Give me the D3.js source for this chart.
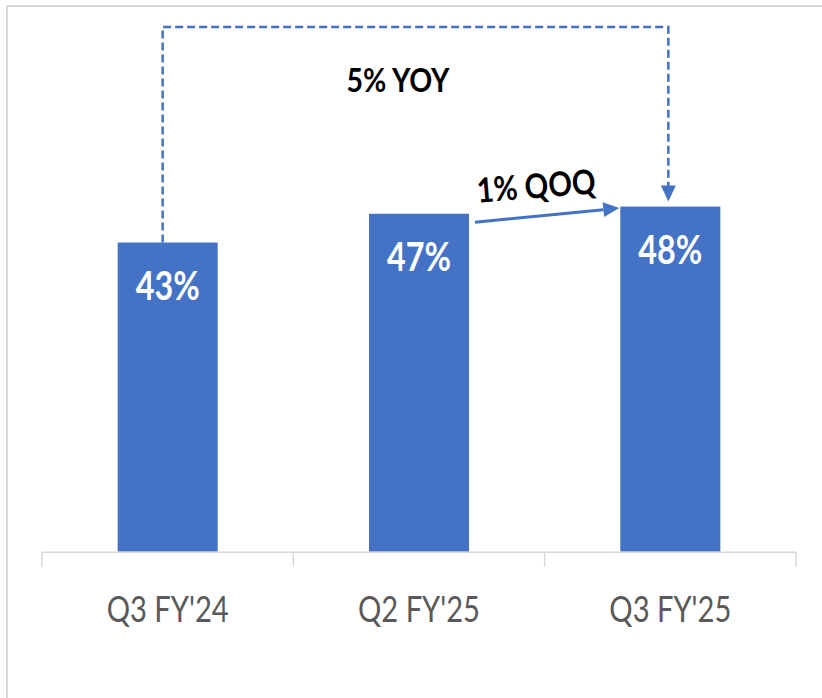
<!DOCTYPE html>
<html>
<head>
<meta charset="utf-8">
<script src="https://cdn.jsdelivr.net/npm/d3@7"></script>
<style>
  html, body { margin: 0; padding: 0; background: #fff; }
  svg { display: block; }
</style>
</head>
<body>
<svg id="chart" width="822" height="698"></svg>
<script>
const categories = ["Q3 FY'24", "Q2 FY'25", "Q3 FY'25"];
const values = [43, 47, 48];
const valueLabels = ["43%", "47%", "48%"];
const yoyLabel = "5% YOY";
const qoqLabel = "1% QOQ";

const svg = d3.select("#chart");
const blue = "#4472C4";
const grid = "#d9d9d9";

// outer frame (clipped at right/bottom like the reference)
svg.append("rect").attr("x", 7).attr("y", 6).attr("width", 900).attr("height", 900)
  .attr("fill", "none").attr("stroke", grid).attr("stroke-width", 2);

const x = d3.scaleBand().domain(categories).range([42, 796])
  .paddingInner(0.602).paddingOuter(0.301);
const y = d3.scaleLinear().domain([0, 60]).range([551.7, 551.7 - 60 * 7.19]);

// bars
svg.selectAll("rect.bar").data(values).join("rect").attr("class", "bar")
  .attr("x", (d, i) => x(categories[i]))
  .attr("width", x.bandwidth())
  .attr("y", d => y(d))
  .attr("height", d => y(0) - y(d))
  .attr("fill", blue);

// axis line and boundary ticks
const step = x.step();
const bounds = d3.range(categories.length + 1).map(i => 42 + i * step);
svg.append("line").attr("x1", 42).attr("x2", 796).attr("y1", y(0) + 0.5).attr("y2", y(0) + 0.5)
  .attr("stroke", grid).attr("stroke-width", 1.5);
svg.selectAll("line.tick").data(bounds).join("line").attr("class", "tick")
  .attr("x1", d => d).attr("x2", d => d).attr("y1", y(0)).attr("y2", y(0) + 15)
  .attr("stroke", grid).attr("stroke-width", 1.5);

// category labels via axis
const axis = d3.axisBottom(x).tickSize(0).tickPadding(0);
const ag = svg.append("g").attr("transform", `translate(0,${y(0)})`).call(axis);
ag.select(".domain").remove();
ag.selectAll("text")
  .attr("y", 70).attr("dy", 0)
  .attr("font-family", "Lato, 'Open Sans', sans-serif")
  .attr("font-size", 37).attr("fill", "#595959")
  .attr("textLength", 122).attr("lengthAdjust", "spacingAndGlyphs");

// value labels
svg.selectAll("text.val").data(values).join("text").attr("class", "val")
  .attr("x", (d, i) => x(categories[i]) + x.bandwidth() / 2)
  .attr("y", d => y(d) + 57)
  .attr("text-anchor", "middle")
  .attr("font-family", "Lato, 'Open Sans', sans-serif")
  .attr("font-weight", "bold").attr("font-size", 40).attr("fill", "#fff")
  .attr("textLength", 64).attr("lengthAdjust", "spacingAndGlyphs")
  .text((d, i) => valueLabels[i]);

// YOY dashed connector
const x0 = x(categories[0]) + x.bandwidth() / 2 - 5;
const x2 = x(categories[2]) + x.bandwidth() / 2 - 2;
const topY = 27;
const tipY = y(values[2]) - 5;
svg.append("path")
  .attr("d", `M${x0},${y(values[0])}V${topY}H${x2}V${tipY - 14}`)
  .attr("fill", "none").attr("stroke", blue).attr("stroke-width", 2.5)
  .attr("stroke-dasharray", "8,4");
svg.append("path")
  .attr("d", `M${x2 - 7.5},${tipY - 16}L${x2 + 7.5},${tipY - 16}L${x2},${tipY}Z`)
  .attr("fill", blue);

svg.append("text").attr("x", 398).attr("y", 92)
  .attr("text-anchor", "middle")
  .attr("font-family", "Lato, 'Open Sans', sans-serif")
  .attr("font-weight", "bold").attr("font-size", 33).attr("fill", "#000")
  .attr("textLength", 103).attr("lengthAdjust", "spacingAndGlyphs")
  .text(yoyLabel);

// QOQ arrow
const sx = x(categories[1]) + x.bandwidth() + 6, sy = y(values[1]) + 8.5;
const ex = x(categories[2]) - 1, ey = y(values[2]) + 1.5;
const ang = Math.atan2(ey - sy, ex - sx);
const hl = 16, hw = 7.5;
const bx = ex - hl * Math.cos(ang), by = ey - hl * Math.sin(ang);
svg.append("line").attr("x1", sx).attr("y1", sy).attr("x2", bx).attr("y2", by)
  .attr("stroke", blue).attr("stroke-width", 3);
svg.append("path")
  .attr("d", `M${ex},${ey}L${bx + hw * Math.sin(ang)},${by - hw * Math.cos(ang)}L${bx - hw * Math.sin(ang)},${by + hw * Math.cos(ang)}Z`)
  .attr("fill", blue);

svg.append("text")
  .attr("transform", `translate(537,198) rotate(-4.5)`)
  .attr("text-anchor", "middle")
  .attr("font-family", "Lato, 'Open Sans', sans-serif")
  .attr("font-weight", "bold").attr("font-size", 34).attr("fill", "#000")
  .attr("textLength", 119).attr("lengthAdjust", "spacingAndGlyphs")
  .text(qoqLabel);
</script>
</body>
</html>
